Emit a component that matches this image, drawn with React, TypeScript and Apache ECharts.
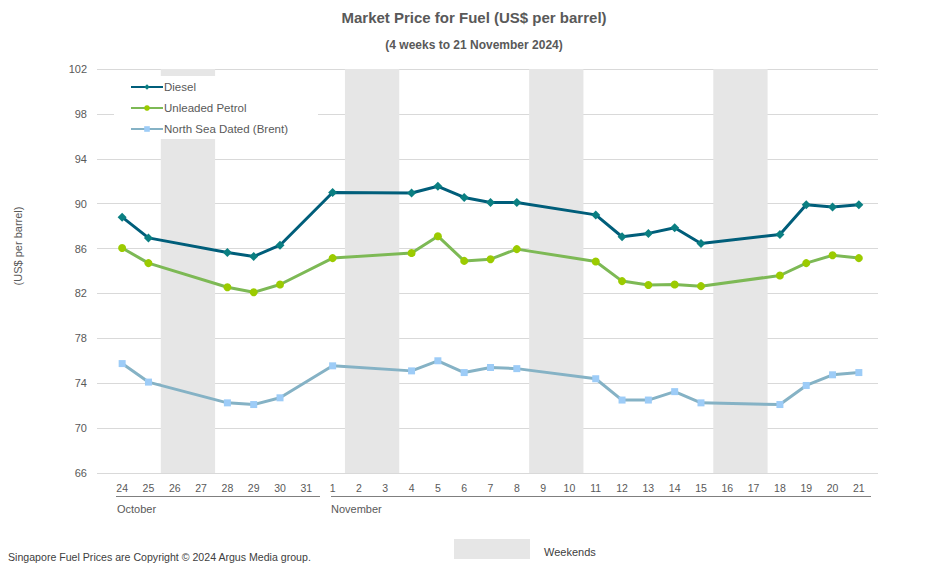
import React, { useEffect, useRef } from "react";
import * as echarts from "echarts";

const categories = ["24","25","26","27","28","29","30","31","1","2","3","4","5","6","7","8","9","10","11","12","13","14","15","16","17","18","19","20","21"];
const weekendDays = ["26","27","2","3","9","10","16","17"];
const diesel = [88.8,86.95,null,null,85.65,85.3,86.3,null,91.0,null,null,90.95,91.55,90.55,90.1,90.1,null,null,89.0,87.05,87.35,87.85,86.45,null,null,87.25,89.9,89.7,89.9];
const unleaded = [86.05,84.7,null,null,82.55,82.1,82.8,null,85.15,null,null,85.6,87.1,84.9,85.05,85.95,null,null,84.85,83.1,82.75,82.8,82.65,null,null,83.6,84.7,85.4,85.15];
const brent = [75.75,74.1,null,null,72.25,72.1,72.7,null,75.55,null,null,75.1,76.0,74.95,75.4,75.3,null,null,74.4,72.5,72.5,73.25,72.25,null,null,72.1,73.8,74.75,74.95];
const yMin = 66;
const yMax = 102;
const yStep = 4;

const FONT = "'Liberation Sans', Arial, sans-serif";
const GREY = "#595959";

export default function App() {
  const ref = useRef<HTMLDivElement>(null);
  useEffect(() => {
    if (!ref.current) return;
    const chart = echarts.init(ref.current, null, { renderer: "svg" });
    const weekendData = categories.map((c) => (weekendDays.includes(c) ? yMax : null));
    chart.setOption({
      animation: false,
      backgroundColor: "#ffffff",
      textStyle: { fontFamily: FONT },
      title: [
        {
          text: "Market Price for Fuel (US$ per barrel)",
          left: "center",
          top: 5,
          textStyle: { fontSize: 15, fontWeight: "bold", color: GREY, fontFamily: FONT },
        },
        {
          text: "(4 weeks to 21 November 2024)",
          left: "center",
          top: 34,
          textStyle: { fontSize: 12, fontWeight: "bold", color: GREY, fontFamily: FONT },
        },
      ],
      grid: [
        { left: 97, right: 70, top: 69, bottom: 103 },
        { left: 109, right: 76, top: 69, bottom: 103 },
      ],
      xAxis: [
        { gridIndex: 0, type: "value", min: 0, max: 1, show: false },
        {
          gridIndex: 1,
          type: "category",
          data: categories,
          boundaryGap: true,
          axisLine: { show: false },
          axisTick: { show: false },
          axisLabel: { color: GREY, fontSize: 10.5, margin: 9, interval: 0, fontFamily: FONT },
        },
      ],
      yAxis: [
        {
          gridIndex: 0,
          type: "value",
          min: yMin,
          max: yMax,
          interval: yStep,
          axisLine: { show: false },
          axisTick: { show: false },
          axisLabel: { color: GREY, fontSize: 11, margin: 10, fontFamily: FONT },
          splitLine: { lineStyle: { color: "#D9D9D9", width: 1 } },
        },
        {
          gridIndex: 1,
          type: "value",
          min: yMin,
          max: yMax,
          interval: yStep,
          show: false,
          splitLine: { show: false },
        },
      ],
      legend: {
        orient: "vertical",
        left: 114,
        top: 76,
        padding: [5, 30, 4, 16],
        backgroundColor: "#ffffff",
        itemWidth: 32,
        itemHeight: 7,
        itemGap: 9,
        data: ["Diesel", "Unleaded Petrol", "North Sea Dated (Brent)"],
        textStyle: { color: GREY, fontSize: 11.5, lineHeight: 12, fontFamily: FONT, padding: [0, 0, 0, -4] },
      },
      series: [
        {
          name: "Weekends",
          type: "bar",
          xAxisIndex: 1,
          yAxisIndex: 1,
          data: weekendData,
          barWidth: 28,
          itemStyle: { color: "#E6E6E6" },
          silent: true,
          z: 1,
        },
        {
          name: "Diesel",
          type: "line",
          xAxisIndex: 1,
          yAxisIndex: 1,
          data: diesel,
          connectNulls: true,
          symbol: "diamond",
          symbolSize: 9,
          itemStyle: { color: "#0B7F82" },
          lineStyle: { color: "#005E7A", width: 3 },
          z: 4,
        },
        {
          name: "Unleaded Petrol",
          type: "line",
          xAxisIndex: 1,
          yAxisIndex: 1,
          data: unleaded,
          connectNulls: true,
          symbol: "circle",
          symbolSize: 8,
          itemStyle: { color: "#9BCB00" },
          lineStyle: { color: "#7DB955", width: 3 },
          z: 3,
        },
        {
          name: "North Sea Dated (Brent)",
          type: "line",
          xAxisIndex: 1,
          yAxisIndex: 1,
          data: brent,
          connectNulls: true,
          symbol: "rect",
          symbolSize: 7,
          itemStyle: { color: "#9DCCF7" },
          lineStyle: { color: "#85B2C5", width: 3 },
          z: 3,
        },
      ],
      graphic: [
        {
          type: "text",
          x: 18,
          y: 246,
          rotation: Math.PI / 2,
          style: {
            text: "(US$ per barrel)",
            fill: GREY,
            font: `11px ${FONT}`,
            align: "center",
            verticalAlign: "middle",
          },
        },
        {
          type: "line",
          shape: { x1: 116, y1: 496.5, x2: 320, y2: 496.5 },
          style: { stroke: "#7F7F7F", lineWidth: 1 },
        },
        {
          type: "line",
          shape: { x1: 331, y1: 496.5, x2: 871, y2: 496.5 },
          style: { stroke: "#7F7F7F", lineWidth: 1 },
        },
        {
          type: "text",
          x: 117,
          y: 509,
          style: { text: "October", fill: GREY, font: `11px ${FONT}`, verticalAlign: "middle" },
        },
        {
          type: "text",
          x: 331,
          y: 509,
          style: { text: "November", fill: GREY, font: `11px ${FONT}`, verticalAlign: "middle" },
        },
        {
          type: "text",
          x: 8,
          y: 557,
          style: {
            text: "Singapore Fuel Prices are Copyright © 2024 Argus Media group.",
            fill: "#404040",
            font: `10.6px ${FONT}`,
            verticalAlign: "middle",
          },
        },
        {
          type: "rect",
          shape: { x: 454, y: 539, width: 76, height: 20 },
          style: { fill: "#E6E6E6" },
        },
        {
          type: "text",
          x: 544,
          y: 552,
          style: { text: "Weekends", fill: "#404040", font: `11px ${FONT}`, verticalAlign: "middle" },
        },
      ],
    });
    return () => chart.dispose();
  }, []);
  return <div ref={ref} style={{ width: 948, height: 576, position: "absolute", left: 0, top: 0 }} />;
}
